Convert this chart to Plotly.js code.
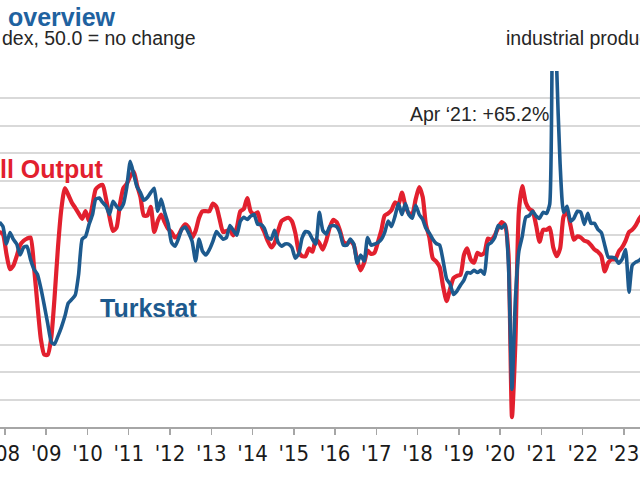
<!DOCTYPE html>
<html>
<head>
<meta charset="utf-8">
<script src="https://cdn.plot.ly/plotly-3.0.1.min.js"></script>
<style>
  html, body { margin: 0; padding: 0; background: #ffffff; }
  #chart { width: 640px; height: 480px; }
</style>
</head>
<body>
<div id="chart"></div>
<script>
// Monthly series, starting November 2007
const startYear = 2007;
const startMonth = 11;

// Overall Output index (50.0 = no change), left scale
const outputIndex = [
  50.3, 50.1,
  48.3, 46.9, 47.2, 48.1, 49.1, 49.5, 49.7, 49.8, 47.1, 43.7, 40.5, 39.1,
  39.1, 40.7, 44.2, 48.9, 52.4, 54.3, 53.7, 53.0, 52.5, 52.0, 51.5, 52.2,
  51.3, 52.8, 54.2, 54.5, 54.6, 53.3, 51.7, 50.4, 50.7, 52.8, 54.3, 54.7,
  55.4, 55.8, 54.6, 53.5, 51.8, 51.8, 52.6, 50.3, 51.3, 51.9, 51.2, 50.6,
  50.3, 49.8, 50.0, 50.6, 51.0, 50.7, 49.8, 50.4, 51.6, 52.2, 52.2, 52.2,
  52.9, 52.6, 51.5, 50.3, 50.4, 50.5, 50.0, 50.7, 52.2, 52.4, 53.4, 52.2,
  51.9, 52.1, 51.0, 50.3, 49.5, 48.9, 49.3, 50.4, 51.3, 51.5, 51.6, 51.3,
  50.2, 48.5, 48.1, 48.1, 48.8, 48.5, 49.6, 49.3, 48.7, 49.5, 50.7, 51.4,
  51.2, 50.4, 49.4, 49.2, 49.5, 49.1, 47.7, 46.8, 47.5, 48.6, 48.3, 48.4,
  49.4, 50.5, 51.8, 52.0, 52.3, 53.0, 52.8, 53.9, 52.7, 52.0, 52.0, 53.3,
  54.4, 53.5, 51.0, 49.8, 47.9, 47.6, 47.1, 45.3, 44.0, 45.1, 46.1, 46.3,
  46.4, 48.2, 48.8, 47.8, 47.5, 48.4, 48.2, 48.4, 49.7, 49.6, 50.0, 50.7,
  51.2, 50.9, 48.3, 33.4, 40.1, 52.2, 54.5, 53.0, 52.4, 52.2, 50.9, 49.4,
  50.5, 50.5, 50.7, 48.9, 48.1, 48.8, 51.7, 52.2, 50.9, 49.6, 49.9, 49.8,
  49.5, 49.4, 49.1, 48.7, 48.5, 48.1, 46.7, 47.5, 47.8, 47.8, 48.5, 48.9,
  49.5, 50.3, 50.5, 50.9, 51.5, 51.9
];

// Turkstat industrial production, % yr/yr, right scale
const turkstatIP = [
  2.4, 1.6,
  -1.6, 0.5, -0.7, -1.6, -3.6, -2.2, -2.0, -4.4, -6.2, -7.1, -9.7, -12.8,
  -16.2, -19.5, -19.9, -18.4, -16.8, -14.8, -12.4, -11.7, -10.9, -7.1, -0.7, -0.2,
  2.0, 3.8, 6.6, 6.8, 6.0, 5.3, 3.8, 6.2, 5.3, 4.7, 5.7, 8.8,
  13.5, 11.1, 8.9, 7.8, 6.4, 6.9, 7.8, 8.6, 4.4, 6.6, 4.2, 2.2,
  -1.3, -2.0, -0.7, 1.1, 1.5, 0.4, -1.1, -4.7, -0.7, -2.9, -3.6, -2.6,
  -1.1, 0.7, 0.0, -0.7, -0.4, 1.8, 0.9, 0.0, 2.6, 3.3, 2.9, 3.5,
  3.8, 2.0, 2.0, 1.3, -0.4, -0.7, 0.9, -1.3, -2.0, -1.6, -1.6, -2.2,
  -4.2, -3.3, -0.5, 0.7, 0.5, -0.7, -1.6, 4.2, 0.9, 0.2, 1.6, 1.8,
  1.6, 0.4, -1.8, -1.8, -0.7, -1.6, -5.1, -3.6, -4.7, -0.4, -1.8, -1.6,
  -1.3, -0.7, 0.5, 2.6, 1.6, 3.5, 5.8, 3.8, 5.8, 3.8, 3.1, 5.5,
  3.8, 2.9, 1.3, 0.4, -0.7, -1.5, -1.8, -4.7, -8.0, -8.9, -10.8, -10.2,
  -9.1, -8.2, -6.8, -6.9, -6.4, -6.8, -6.4, -7.1, -1.8, -1.3, -0.4, 1.8,
  1.3, 2.0, -5.3, -28.1, -11.7, -2.9, -0.2, 3.3, 3.6, 4.4, 3.5, 3.1,
  4.2, 4.0, 5.7, 65.2, 31.0, 13.0, 4.2, 5.3, 2.6, 3.1, 4.4, 4.2,
  2.0, 4.0, 2.2, 2.2, 1.1, 0.5, -1.8, -4.0, -4.0, -4.2, -5.1, -4.4,
  -2.6, -10.4, -5.5, -4.9, -4.6, -4.0
];

// x-axis tick labels
const yearTickLabels = ["'08","'09","'10","'11","'12","'13","'14","'15","'16","'17","'18","'19","'20","'21","'22","'23"];
const yearTickDates = ["2008-01-01","2009-01-01","2010-01-01","2011-01-01","2012-01-01","2013-01-01","2014-01-01","2015-01-01","2016-01-01","2017-01-01","2018-01-01","2019-01-01","2020-01-01","2021-01-01","2022-01-01","2023-01-01"];

function monthDates(n) {
  const out = [];
  for (let i = 0; i < n; i++) {
    const t = (startMonth - 1) + i;
    const y = startYear + Math.floor(t / 12);
    const m = (t % 12) + 1;
    out.push(y + "-" + String(m).padStart(2, "0") + "-15");
  }
  return out;
}

const RED = "#e2202e";
const BLUE = "#1d5a8e";
const TITLE_BLUE = "#1f62a0";
const TEXT = "#262626";

const traces = [
  {
    x: monthDates(outputIndex.length), y: outputIndex,
    type: "scatter", mode: "lines", name: "Overall Output",
    line: { color: RED, width: 4.2, shape: "spline", smoothing: 0.6 },
    yaxis: "y", hoverinfo: "skip"
  },
  {
    x: monthDates(turkstatIP.length), y: turkstatIP,
    type: "scatter", mode: "lines", name: "Turkstat",
    line: { color: BLUE, width: 3.6, shape: "spline", smoothing: 0.5 },
    yaxis: "y2", hoverinfo: "skip"
  }
];

const layout = {
  width: 640, height: 480,
  margin: { l: 0, r: 0, t: 71, b: 53, pad: 0 },
  paper_bgcolor: "#ffffff", plot_bgcolor: "#ffffff",
  showlegend: false,
  font: { family: "Liberation Sans, Arial, sans-serif", color: TEXT },
  xaxis: {
    type: "date",
    range: ["2007-11-19", "2023-05-23"],
    tickmode: "array",
    tickvals: yearTickDates,
    ticktext: yearTickLabels,
    ticklabeloverflow: "allow",
    ticks: "outside", ticklen: 6, tickwidth: 1.5, tickcolor: "#a6a6a6",
    showline: true, linecolor: "#a6a6a6", linewidth: 2,
    showgrid: false, zeroline: false,
    tickfont: { family: "Liberation Sans Narrow, DejaVu Sans Condensed, Arial Narrow, sans-serif", size: 22, color: "#1a1a1a" },
    fixedrange: true
  },
  yaxis: {
    range: [32.5, 65],
    tick0: 32.5, dtick: 2.5,
    showgrid: true, gridcolor: "#d9d9d9", gridwidth: 2,
    showticklabels: false, ticks: "", zeroline: false, showline: false,
    fixedrange: true
  },
  yaxis2: {
    range: [-35, 30],
    overlaying: "y", side: "right",
    showgrid: false, showticklabels: false, ticks: "", zeroline: false, showline: false,
    fixedrange: true
  },
  annotations: [
    { xref: "paper", yref: "paper", x: 6/640, y: 1.152, xanchor: "left", yanchor: "middle",
      text: "<b>overview</b>", showarrow: false, font: { size: 25, color: TITLE_BLUE } },
    { xref: "paper", yref: "paper", x: 0, y: 1.0935, xanchor: "left", yanchor: "middle",
      text: "dex, 50.0 = no change", showarrow: false, font: { size: 19.5, color: TEXT } },
    { xref: "paper", yref: "paper", x: 504/640, y: 1.0935, xanchor: "left", yanchor: "middle",
      text: "industrial produc", showarrow: false, font: { size: 19.5, color: TEXT } },
    { xref: "paper", yref: "paper", x: 0, y: 0.7247, xanchor: "left", yanchor: "middle", xshift: -2,
      text: "<b>ll Output</b>", showarrow: false, font: { size: 25, color: RED } },
    { xref: "paper", yref: "paper", x: 98/640, y: 0.334, xanchor: "left", yanchor: "middle",
      text: "<b>Turkstat</b>", showarrow: false, font: { size: 25, color: BLUE } },
    { xref: "paper", yref: "paper", x: 408/640, y: 0.879, xanchor: "left", yanchor: "middle",
      text: "Apr \u201821: +65.2%", showarrow: false, font: { size: 19.5, color: TEXT } }
  ]
};

Plotly.newPlot("chart", traces, layout, { displayModeBar: false, staticPlot: true });
</script>
</body>
</html>
